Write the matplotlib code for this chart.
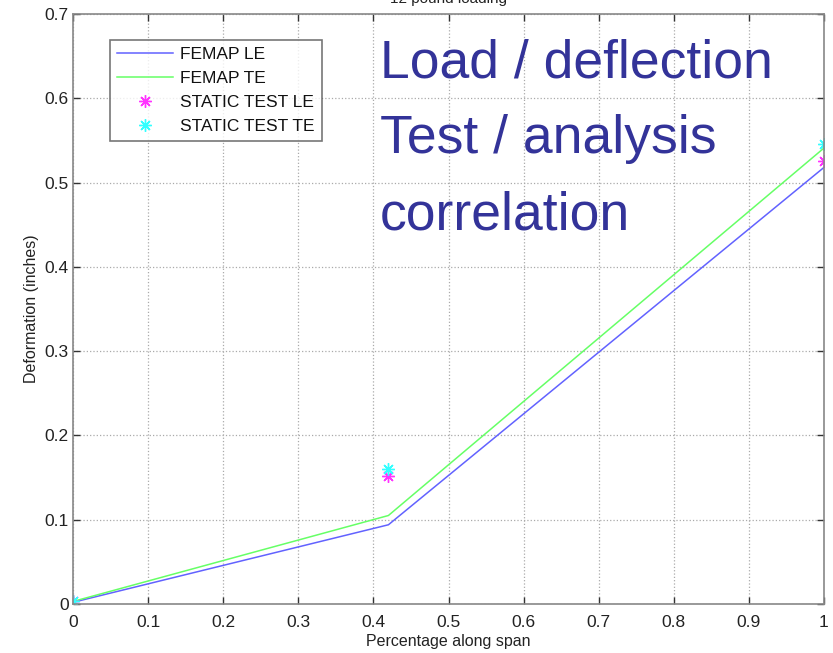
import matplotlib
matplotlib.use("Agg")
import matplotlib.pyplot as plt

plt.rcParams['font.family'] = ['Liberation Sans', 'DejaVu Sans']

span = [0.0, 0.42, 1.0]
femap_le = [0.002, 0.094, 0.518]
femap_te = [0.003, 0.105, 0.541]
test_le = [0.003, 0.152, 0.525]
test_te = [0.004, 0.160, 0.546]
xticks = [0, 0.1, 0.2, 0.3, 0.4, 0.5, 0.6, 0.7, 0.8, 0.9, 1]
yticks = [0, 0.1, 0.2, 0.3, 0.4, 0.5, 0.6, 0.7]
overlay_lines = ["Load / deflection", "Test / analysis", "correlation"]

fig = plt.figure(figsize=(8.33, 6.53), dpi=100)
ax = fig.add_axes([73/833, 49/653, 751/833, 590/653])

ast = (8, 2, 0)
ax.plot(span, femap_le, color='#6262ff', lw=1.1, label='FEMAP LE')
ax.plot(span, femap_te, color='#66ff66', lw=1.1, label='FEMAP TE')
ax.plot(span, test_le, ls='none', marker=ast, color='#ff33ff', ms=9, mew=1.0, label='STATIC TEST LE')
ax.plot(span, test_te, ls='none', marker=ast, color='#33ffff', ms=9, mew=1.0, label='STATIC TEST TE')

ax.set_xlim(0, 1)
ax.set_ylim(0, 0.7)
ax.set_xticks(xticks)
ax.set_xticklabels([('%g' % v) for v in xticks])
ax.set_yticks(yticks)
ax.set_yticklabels([('%g' % v) for v in yticks])
ax.tick_params(direction='in', top=True, right=True, labelsize=12.5, colors='#333333', length=5, width=1)
ax.tick_params(axis='x', pad=8)
ax.tick_params(axis='y', pad=3)
for tl in ax.get_xticklabels() + ax.get_yticklabels():
    tl.set_color('#222222')
for s in ax.spines.values():
    s.set_color('#888888')
    s.set_linewidth(1.2)
ax.grid(True, ls=':', color='#aaaaaa', lw=0.9)
ax.set_axisbelow(True)

ax.set_xlabel('Percentage along span', fontsize=11.5, color='#222222', labelpad=3)
ax.set_ylabel('Deformation (inches)', fontsize=11.5, color='#222222', labelpad=4)

leg = ax.legend(loc='upper left', bbox_to_anchor=((110-73)/751, (604-40)/590),
                fontsize=12.5, frameon=True, fancybox=False, borderpad=0.4,
                handlelength=3.2, handletextpad=0.45, labelspacing=0.5, borderaxespad=0)
leg.get_frame().set_edgecolor('#555555')
leg.get_frame().set_linewidth(1.2)
for t in leg.get_texts():
    t.set_color('#111111')

fig.text(448/833, 1 - 3/653, '12 pound loading', ha='center', va='baseline', fontsize=11, color='#222222')

baselines = [78, 153, 230]
for txt, yb in zip(overlay_lines, baselines):
    fig.text(380/833, 1 - yb/653, txt, ha='left', va='baseline', fontsize=38.5, color='#333399')

fig.savefig('out.png', dpi=100)
